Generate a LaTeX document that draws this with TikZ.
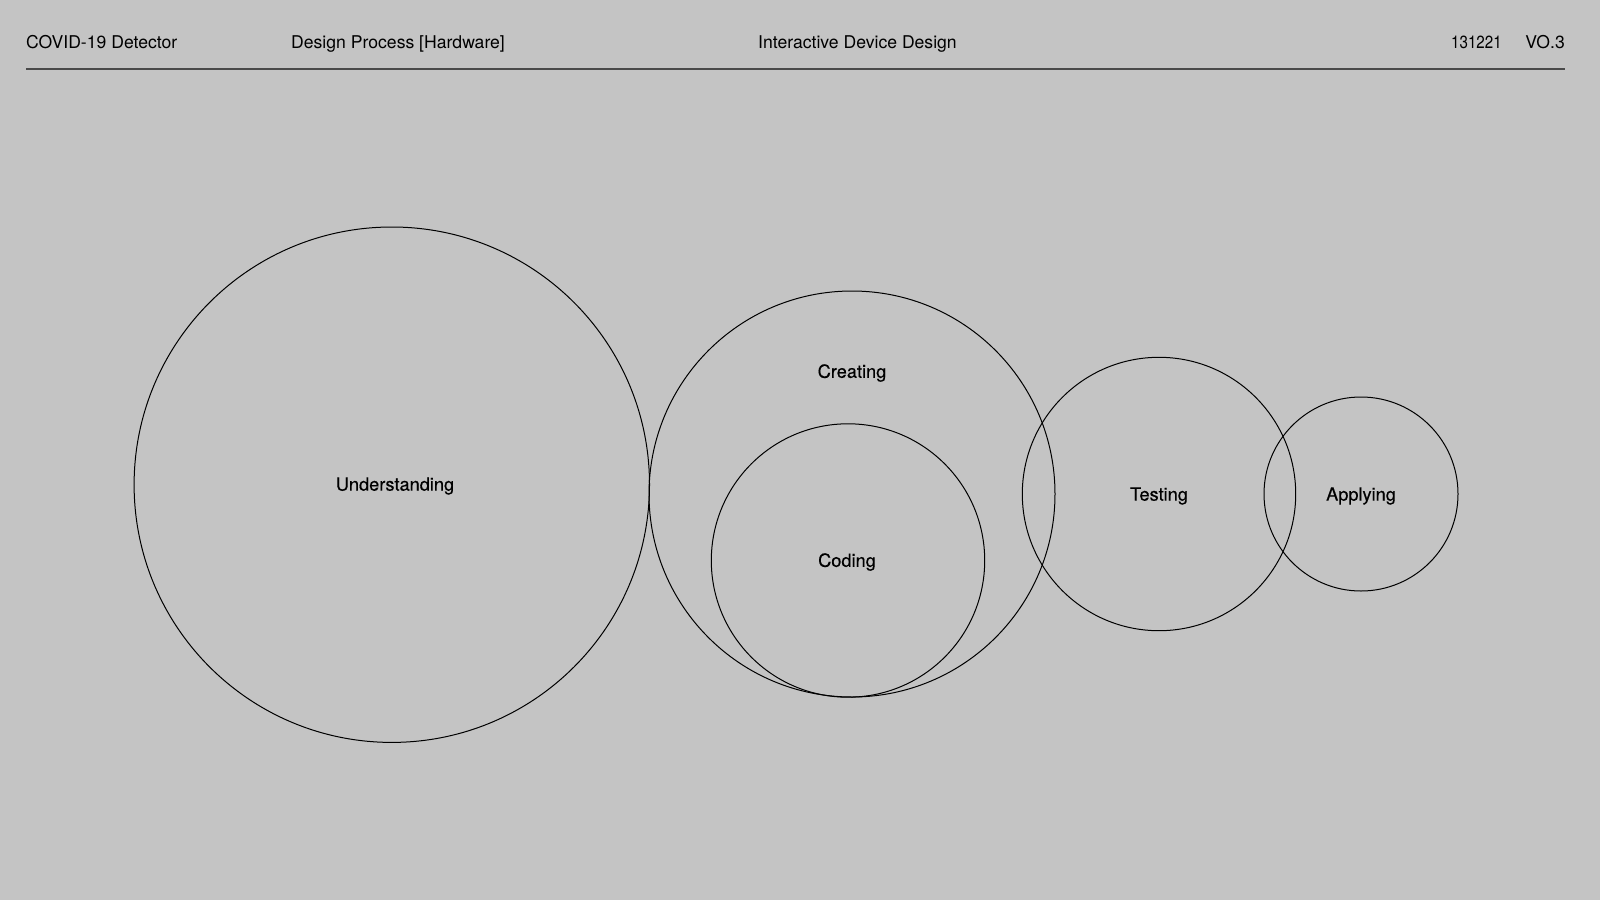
\documentclass[tikz,border=0pt]{standalone}
\usepackage{fontspec}
\setmainfont{TeX Gyre Heros}
\newfontfamily\labelfont[FakeBold=0.35]{TeX Gyre Heros}
\begin{document}
\begin{tikzpicture}[x=1pt,y=-1pt,
  hdr/.style={anchor=base west,inner sep=0pt,font=\fontsize{17.6}{20}\selectfont},
  lbl/.style={inner sep=0pt,font=\labelfont\fontsize{18.2}{20}\selectfont},
  ring/.style={draw=black,line width=1pt,circle,inner sep=0pt}]
\definecolor{bg}{HTML}{C4C4C4}
\definecolor{rule}{HTML}{4A4A4A}
\fill[bg] (0,0) rectangle (1600,900);
\useasboundingbox (0,0) rectangle (1600,900);
% header
\node[hdr] (title) at (26,48) {COVID-19 Detector};
\node[hdr] (proc) at (291,48) {Design Process [Hardware]};
\node[hdr] (course) at (758,48) {Interactive Device Design};
\node[hdr] (date) at (1451,48) {\scalebox{0.86}[1]{131221}};
\node[hdr,anchor=base east] (ver) at (1565,48) {VO.3};
\coordinate (rl) at (26,69);
\coordinate (rr) at (1565,69);
\draw[rule,line width=1.3pt] (rl) -- (rr);
% stages
\node[ring,minimum size=515.4pt] (und) at (391.8,484.7) {};
\node[ring,minimum size=406pt] (cre) at (852,494) {};
\node[ring,minimum size=273.4pt] (cod) at (848,560.5) {};
\node[ring,minimum size=273.4pt] (tst) at (1159,494) {};
\node[ring,minimum size=194pt] (app) at (1361,494) {};
\node[lbl] at (395,486) {Understanding};
\node[lbl] at (852,373) {Creating};
\node[lbl] at (847,562) {Coding};
\node[lbl] at (1159,496) {Testing};
\node[lbl] at (1361,496) {Applying};
\end{tikzpicture}
\end{document}
